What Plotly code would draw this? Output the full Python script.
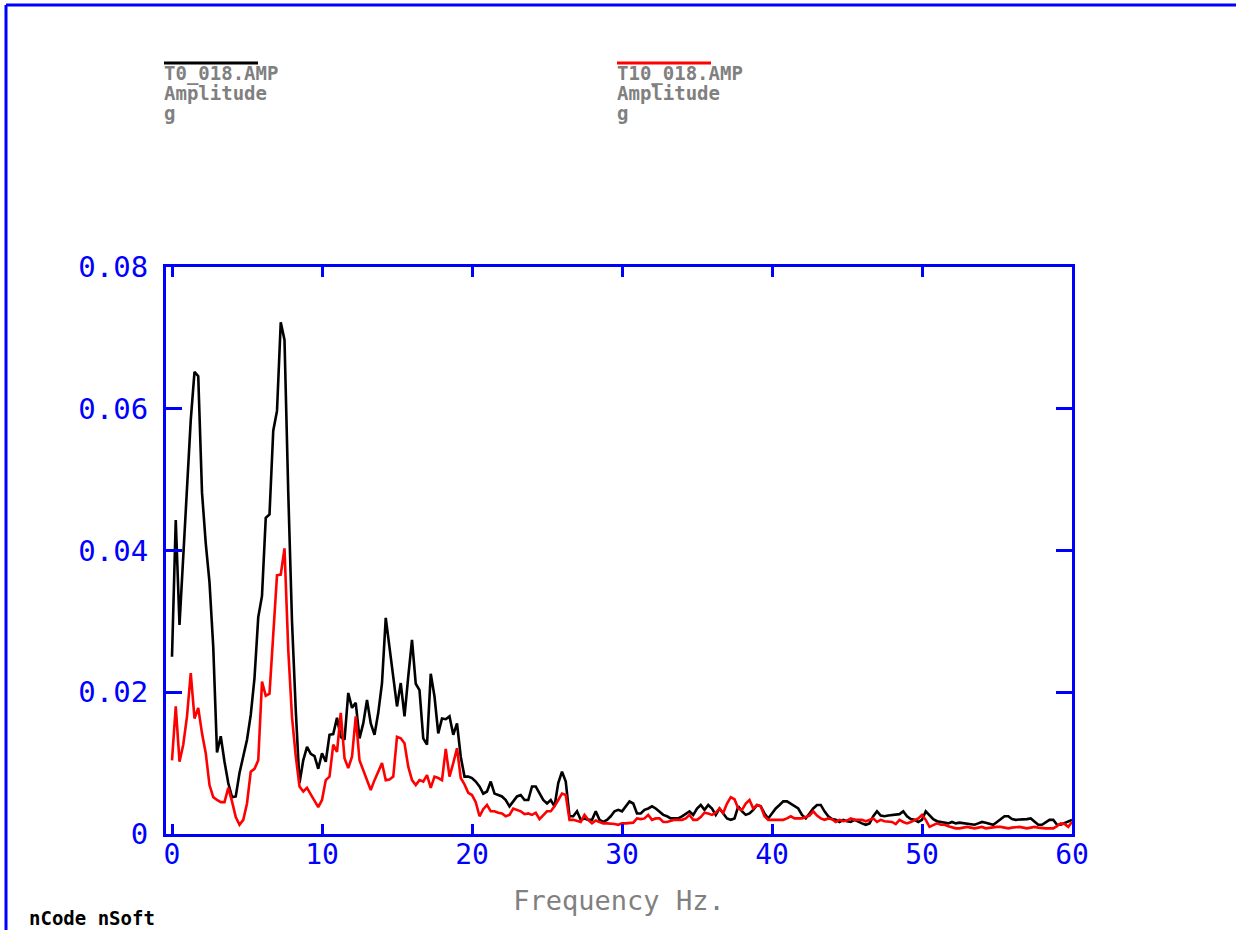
import plotly.graph_objects as go

# Frequency axis (Hz), 0.25 Hz resolution
freq = [i * 0.25 for i in range(241)]

# Amplitude spectrum of T0_018.AMP (g)
amp_t0 = [
    0.0250, 0.0443, 0.0295, 0.0390, 0.0480, 0.0584, 0.0652, 0.0646,
    0.0482, 0.0410, 0.0355, 0.0264, 0.0115, 0.0138, 0.0102, 0.0072,
    0.0052, 0.0053, 0.0086, 0.0109, 0.0133, 0.0168, 0.0220, 0.0306,
    0.0336, 0.0446, 0.0451, 0.0569, 0.0597, 0.0722, 0.0697, 0.0482,
    0.0300, 0.0175, 0.0072, 0.0104, 0.0123, 0.0113, 0.0110, 0.0092,
    0.0114, 0.0102, 0.0140, 0.0141, 0.0164, 0.0137, 0.0133, 0.0199,
    0.0178, 0.0185, 0.0135, 0.0156, 0.0189, 0.0156, 0.0140, 0.0171,
    0.0213, 0.0305, 0.0262, 0.0217, 0.0180, 0.0213, 0.0166, 0.0222,
    0.0274, 0.0212, 0.0203, 0.0135, 0.0126, 0.0226, 0.0194, 0.0142,
    0.0163, 0.0162, 0.0166, 0.0140, 0.0156, 0.0109, 0.0081, 0.0081,
    0.0079, 0.0074, 0.0067, 0.0057, 0.0060, 0.0074, 0.0057, 0.0055,
    0.0053, 0.0048, 0.0039, 0.0046, 0.0053, 0.0055, 0.0048, 0.0048,
    0.0067, 0.0067, 0.0057, 0.0048, 0.0043, 0.0048, 0.0039, 0.0072,
    0.0088, 0.0074, 0.0025, 0.0025, 0.0032, 0.0020, 0.0022, 0.0020,
    0.0020, 0.0032, 0.0020, 0.0017, 0.0020, 0.0025, 0.0032, 0.0034,
    0.0032, 0.0039, 0.0046, 0.0043, 0.0029, 0.0029, 0.0034, 0.0036,
    0.0039, 0.0036, 0.0032, 0.0027, 0.0025, 0.0022, 0.0022, 0.0022,
    0.0025, 0.0029, 0.0032, 0.0027, 0.0036, 0.0041, 0.0034, 0.0041,
    0.0036, 0.0027, 0.0036, 0.0029, 0.0022, 0.0020, 0.0022, 0.0039,
    0.0032, 0.0027, 0.0029, 0.0034, 0.0041, 0.0039, 0.0029, 0.0022,
    0.0029, 0.0036, 0.0041, 0.0046, 0.0046, 0.0043, 0.0039, 0.0036,
    0.0027, 0.0022, 0.0029, 0.0036, 0.0041, 0.0041, 0.0032, 0.0025,
    0.0021, 0.0020, 0.0017, 0.0020, 0.0018, 0.0017, 0.0020, 0.0017,
    0.0015, 0.0013, 0.0015, 0.0025, 0.0032, 0.0026, 0.0025, 0.0026,
    0.0027, 0.0027, 0.0028, 0.0032, 0.0025, 0.0021, 0.0020, 0.0017,
    0.0020, 0.0032, 0.0026, 0.0021, 0.0018, 0.0017, 0.0017, 0.0015,
    0.0017, 0.0015, 0.0016, 0.0015, 0.0014, 0.0013, 0.0013, 0.0015,
    0.0017, 0.0016, 0.0014, 0.0013, 0.0017, 0.0021, 0.0025, 0.0025,
    0.0021, 0.0020, 0.0020, 0.0020, 0.0021, 0.0022, 0.0017, 0.0013,
    0.0013, 0.0017, 0.0020, 0.0020, 0.0013, 0.0013, 0.0015, 0.0017,
    0.0020,
]

# Amplitude spectrum of T10_018.AMP (g)
amp_t10 = [
    0.0104, 0.0180, 0.0102, 0.0126, 0.0166, 0.0227, 0.0163, 0.0178,
    0.0142, 0.0114, 0.0069, 0.0052, 0.0048, 0.0045, 0.0045, 0.0065,
    0.0046, 0.0024, 0.0013, 0.0020, 0.0043, 0.0088, 0.0092, 0.0104,
    0.0215, 0.0195, 0.0198, 0.0290, 0.0365, 0.0366, 0.0403, 0.0260,
    0.0165, 0.0110, 0.0067, 0.0060, 0.0065, 0.0056, 0.0047, 0.0038,
    0.0048, 0.0076, 0.0081, 0.0126, 0.0116, 0.0171, 0.0107, 0.0093,
    0.0109, 0.0166, 0.0104, 0.0090, 0.0076, 0.0062, 0.0076, 0.0088,
    0.0100, 0.0076, 0.0077, 0.0081, 0.0137, 0.0135, 0.0128, 0.0095,
    0.0076, 0.0069, 0.0076, 0.0074, 0.0083, 0.0065, 0.0081, 0.0079,
    0.0076, 0.0120, 0.0081, 0.0100, 0.0121, 0.0079, 0.0070, 0.0058,
    0.0055, 0.0045, 0.0025, 0.0035, 0.0041, 0.0032, 0.0032, 0.0030,
    0.0029, 0.0025, 0.0027, 0.0036, 0.0034, 0.0032, 0.0028, 0.0029,
    0.0027, 0.0030, 0.0021, 0.0027, 0.0032, 0.0032, 0.0039, 0.0048,
    0.0057, 0.0055, 0.0020, 0.0020, 0.0019, 0.0017, 0.0027, 0.0020,
    0.0015, 0.0019, 0.0017, 0.0015, 0.0015, 0.0015, 0.0014, 0.0013,
    0.0015, 0.0015, 0.0015, 0.0016, 0.0022, 0.0021, 0.0022, 0.0027,
    0.0020, 0.0022, 0.0022, 0.0017, 0.0017, 0.0019, 0.0020, 0.0020,
    0.0020, 0.0022, 0.0027, 0.0020, 0.0020, 0.0024, 0.0030, 0.0029,
    0.0027, 0.0030, 0.0036, 0.0030, 0.0043, 0.0052, 0.0049, 0.0036,
    0.0034, 0.0043, 0.0048, 0.0036, 0.0041, 0.0039, 0.0025, 0.0020,
    0.0020, 0.0020, 0.0020, 0.0020, 0.0022, 0.0025, 0.0022, 0.0022,
    0.0022, 0.0024, 0.0026, 0.0032, 0.0026, 0.0022, 0.0020, 0.0022,
    0.0021, 0.0017, 0.0020, 0.0018, 0.0019, 0.0022, 0.0020, 0.0020,
    0.0020, 0.0018, 0.0020, 0.0022, 0.0017, 0.0020, 0.0018, 0.0017,
    0.0017, 0.0014, 0.0020, 0.0017, 0.0015, 0.0017, 0.0020, 0.0022,
    0.0027, 0.0020, 0.0010, 0.0013, 0.0015, 0.0013, 0.0013, 0.0011,
    0.0009, 0.0008, 0.0008, 0.0009, 0.0010, 0.0009, 0.0008, 0.0009,
    0.0010, 0.0008, 0.0009, 0.0010, 0.0010, 0.0010, 0.0009, 0.0008,
    0.0009, 0.0010, 0.0010, 0.0009, 0.0008, 0.0009, 0.0010, 0.0009,
    0.0008, 0.0008, 0.0008, 0.0008, 0.0011, 0.0015, 0.0014, 0.0010,
    0.0017,
]

x_ticks = [0, 10, 20, 30, 40, 50, 60]
x_labels = ["0", "10", "20", "30", "40", "50", "60"]
y_ticks = [0, 0.02, 0.04, 0.06, 0.08]
y_labels = ["0", "0.02", "0.04", "0.06", "0.08"]

channels = [
    {"name": "T0_018.AMP", "y": amp_t0, "color": "#000000", "px": 164},
    {"name": "T10_018.AMP", "y": amp_t10, "color": "#ff0000", "px": 617},
]
quantity = "Amplitude"
unit = "g"

W, H = 1236, 930
ML, MR, MT, MB = 166, 164, 267, 96
PW, PH = W - ML - MR, H - MT - MB
BLUE = "#0000ff"
GREY = "#808080"
MONO = "DejaVu Sans Mono"


def px_x(px):
    return (px - ML) / PW


def px_y(py):
    return (H - MB - py) / PH


fig = go.Figure()
for ch in channels:
    fig.add_trace(go.Scatter(
        x=freq, y=ch["y"], mode="lines", name=ch["name"],
        line=dict(color=ch["color"], width=2.6),
        hoverinfo="x+y",
    ))

shapes = [
    # page frame: top and left rules
    dict(type="line", xref="paper", yref="paper",
         x0=px_x(6), x1=px_x(W + 2), y0=px_y(5), y1=px_y(5),
         line=dict(color=BLUE, width=3)),
    dict(type="line", xref="paper", yref="paper",
         x0=px_x(6), x1=px_x(6), y0=px_y(5), y1=px_y(H + 2),
         line=dict(color=BLUE, width=3)),
]
annotations = []
for ch in channels:
    shapes.append(dict(
        type="line", xref="paper", yref="paper",
        x0=px_x(ch["px"]), x1=px_x(ch["px"] + 94),
        y0=px_y(63), y1=px_y(63),
        line=dict(color=ch["color"], width=3)))
    for i, txt in enumerate([ch["name"], quantity, unit]):
        annotations.append(dict(
            xref="paper", yref="paper", x=px_x(ch["px"] - 2), y=px_y(60 + 20 * i),
            xanchor="left", yanchor="top", showarrow=False, text=txt,
            font=dict(family=MONO, size=19, color=GREY, weight="bold")))

annotations.append(dict(
    xref="paper", yref="paper", x=px_x(27), y=px_y(918),
    xanchor="left", yanchor="middle", showarrow=False, text="nCode nSoft",
    font=dict(family=MONO, size=19, color="#000000", weight="bold")))

fig.update_layout(
    width=W, height=H,
    margin=dict(l=ML, r=MR, t=MT, b=MB, autoexpand=False),
    paper_bgcolor="white", plot_bgcolor="white",
    showlegend=False,
    shapes=shapes, annotations=annotations,
    xaxis=dict(
        range=[-0.4, 60], tickvals=x_ticks, ticktext=x_labels,
        showgrid=False, zeroline=False,
        showline=True, linecolor=BLUE, linewidth=3, mirror="allticks",
        ticks="inside", ticklen=10, tickwidth=3, tickcolor=BLUE,
        ticklabelstandoff=-7,
        tickfont=dict(family=MONO, size=28, color=BLUE),
        title=dict(text="Frequency Hz.", standoff=22,
                   font=dict(family=MONO, size=27, color=GREY)),
    ),
    yaxis=dict(
        range=[0, 0.08], tickvals=y_ticks, ticktext=y_labels,
        showgrid=False, zeroline=False,
        showline=True, linecolor=BLUE, linewidth=3, mirror="allticks",
        ticks="inside", ticklen=16, tickwidth=3, tickcolor=BLUE,
        ticklabelstandoff=9,
        tickfont=dict(family=MONO, size=29, color=BLUE),
    ),
)

fig.write_html("out.html")
